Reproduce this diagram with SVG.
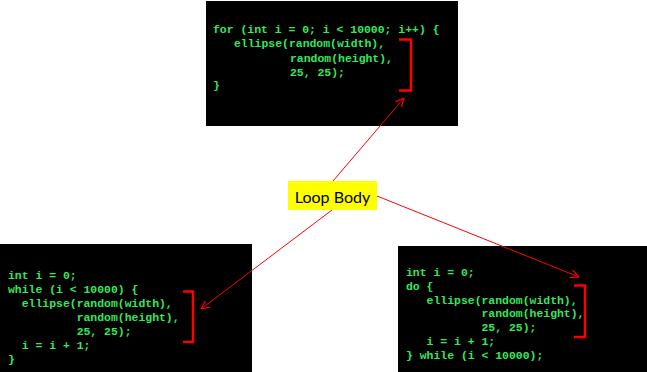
<svg xmlns="http://www.w3.org/2000/svg" width="647" height="372" viewBox="0 0 647 372">
<style>
.box{fill:#000}
.code{font-family:"Liberation Mono","Courier New",monospace;font-weight:bold;font-size:11.45px;fill:#33e85e;white-space:pre}
.brk{fill:none;stroke:#ff0000;stroke-width:2.5}
.conn{fill:none;stroke:#ff0000;stroke-width:1}
.lbl{font-family:Lato,"Open Sans",sans-serif;font-size:16px;fill:#000}
</style>
<defs>
<marker id="arr" viewBox="0 0 10 10" refX="9.5" refY="5" markerWidth="10" markerHeight="10" markerUnits="userSpaceOnUse" orient="auto">
<path d="M1,1 L9.5,5 L1,9" fill="none" stroke="#ff0000" stroke-width="1.2"/>
</marker>
</defs>
<rect width="647" height="372" fill="#fff"/>
<g id="for-loop">
<rect class="box" x="206" y="1" width="252" height="125"/>
<text class="code"><tspan x="213" y="33">for (int i = 0; i &lt; 10000; i++) {</tspan><tspan x="234" y="47">ellipse(random(width),</tspan><tspan x="290" y="61.5">random(height),</tspan><tspan x="290" y="75.5">25, 25);</tspan><tspan x="213" y="89">}</tspan></text>
<path class="brk" d="M399,39.5 H411 V90.5 H399"/>
</g>
<g id="while-loop">
<rect class="box" x="0" y="244" width="252" height="128"/>
<text class="code"><tspan x="8" y="279">int i = 0;</tspan><tspan x="8" y="293">while (i &lt; 10000) {</tspan><tspan x="8" y="307">  ellipse(random(width),</tspan><tspan x="8" y="321">          random(height),</tspan><tspan x="8" y="335">          25, 25);</tspan><tspan x="8" y="349">  i = i + 1;</tspan><tspan x="8" y="363">}</tspan></text>
<path class="brk" d="M183,291.5 H193 V342 H183"/>
</g>
<g id="do-while-loop">
<rect class="box" x="398" y="246" width="249" height="126"/>
<text class="code"><tspan x="406" y="275.7">int i = 0;</tspan><tspan x="406" y="289.6">do {</tspan><tspan x="406" y="303.5">   ellipse(random(width),</tspan><tspan x="406" y="317.4">           random(height),</tspan><tspan x="406" y="331.3">           25, 25);</tspan><tspan x="406" y="345.2">   i = i + 1;</tspan><tspan x="406" y="359.1">} while (i &lt; 10000);</tspan></text>
<path class="brk" d="M574,285.5 H585 V337 H574"/>
</g>
<g id="connectors">
<line class="conn" x1="333" y1="181" x2="404" y2="98" marker-end="url(#arr)"/>
<line class="conn" x1="332" y1="210" x2="201" y2="309" marker-end="url(#arr)"/>
<line class="conn" x1="377" y1="196" x2="579" y2="277" marker-end="url(#arr)"/>
</g>
<g id="loop-body">
<rect x="288" y="181" width="89" height="29" fill="#ffff00"/>
<text class="lbl" x="332.5" y="203" text-anchor="middle">Loop Body</text>
</g>
</svg>
